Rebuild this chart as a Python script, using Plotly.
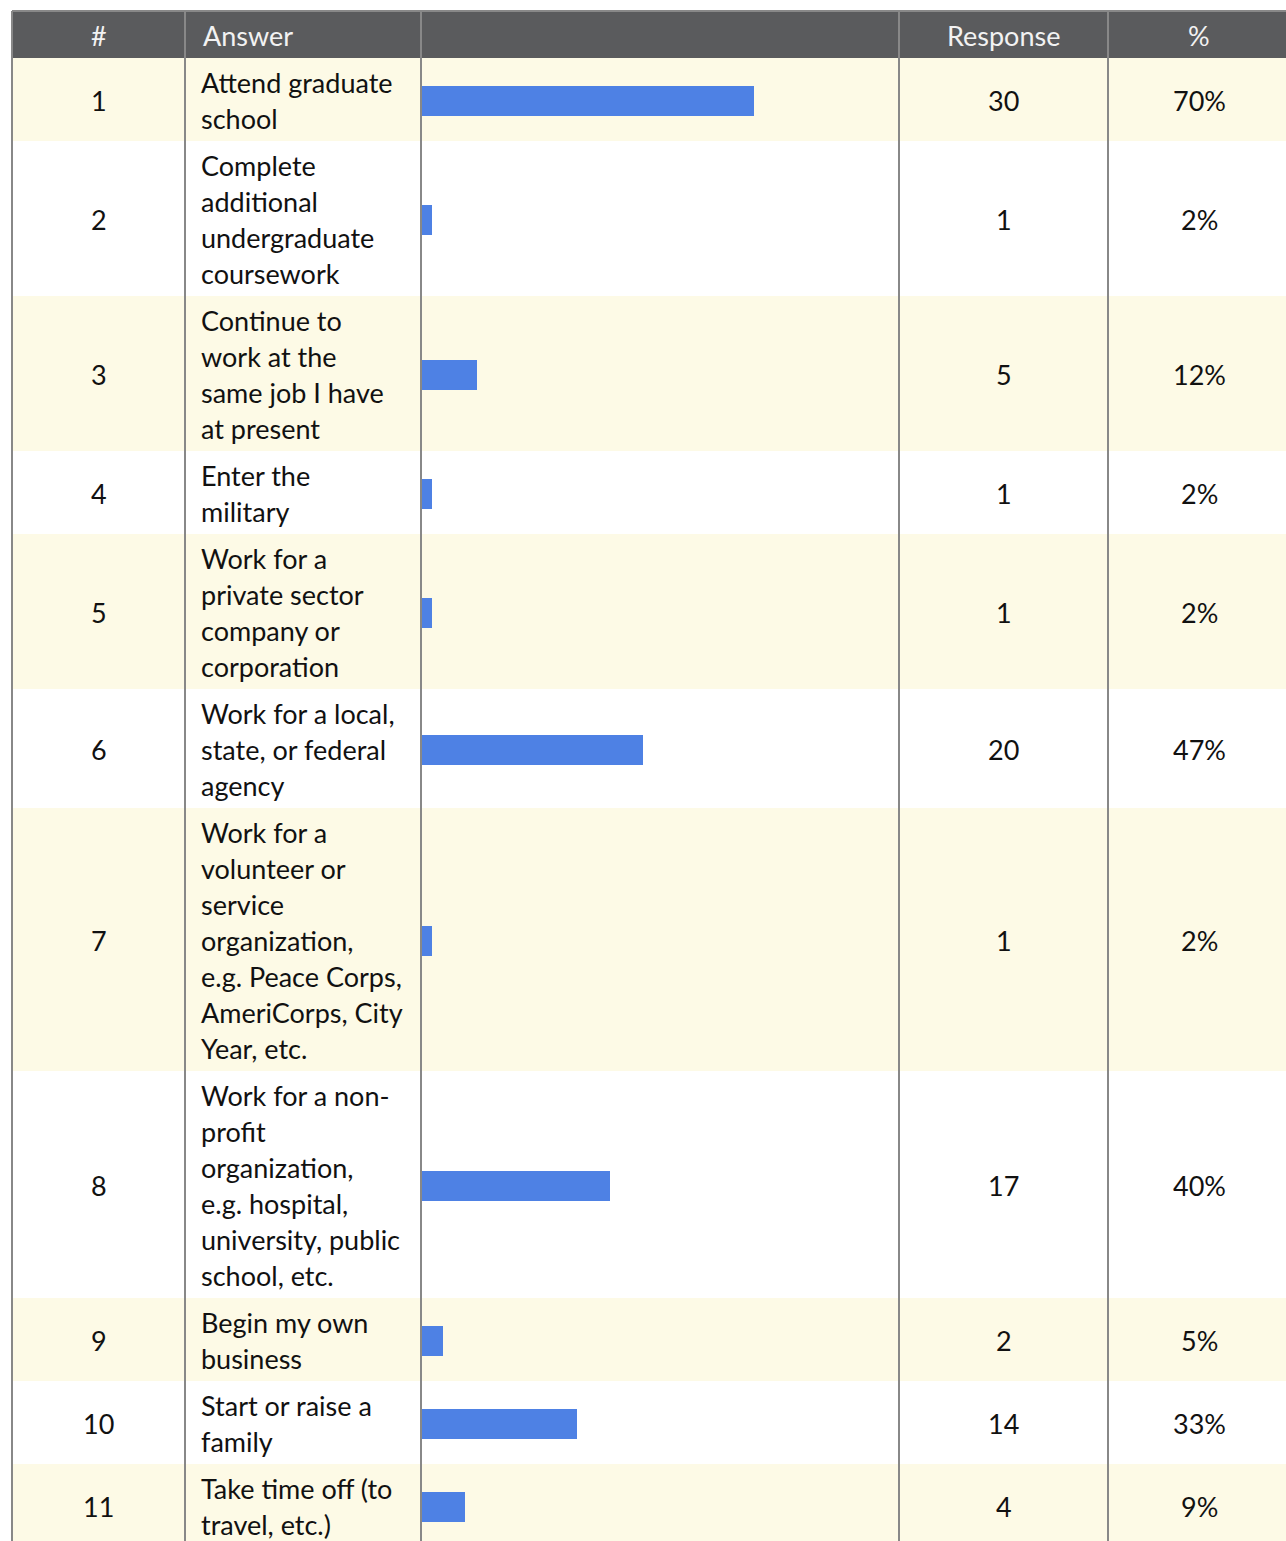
import plotly.graph_objects as go

# ---------------- data ----------------
numbers = ["1", "2", "3", "4", "5", "6", "7", "8", "9", "10", "11"]
answers = [
    ["Attend graduate", "school"],
    ["Complete", "additional", "undergraduate", "coursework"],
    ["Continue to", "work at the", "same job I have", "at present"],
    ["Enter the", "military"],
    ["Work for a", "private sector", "company or", "corporation"],
    ["Work for a local,", "state, or federal", "agency"],
    ["Work for a", "volunteer or", "service", "organization,", "e.g. Peace Corps,", "AmeriCorps, City", "Year, etc."],
    ["Work for a non-", "profit", "organization,", "e.g. hospital,", "university, public", "school, etc."],
    ["Begin my own", "business"],
    ["Start or raise a", "family"],
    ["Take time off (to", "travel, etc.)"],
]
responses = [30, 1, 5, 1, 1, 20, 1, 17, 2, 14, 4]
percent_labels = ["70%", "2%", "12%", "2%", "2%", "47%", "2%", "40%", "5%", "33%", "9%"]
total_respondents = 43
headers = ["#", "Answer", "", "Response", "%"]

share = [r / total_respondents * 100 for r in responses]

# ---------------- layout constants ----------------
W, H = 1286, 1541
FONT = "Lato, 'Open Sans', sans-serif"
FS = 27
LINE_H = 36
PAD = 11
HEADER_TOP, HEADER_BOT = 11, 58
col_x = [12, 185, 421, 899, 1108, 1292]
HEADER_BG = "#5A5B5D"
CREAM = "#FDFAE6"
GRID = "#888888"
BAR = "#4E81E4"

row_top = []
row_bot = []
y = HEADER_BOT
for lines in answers:
    h = LINE_H * len(lines) + PAD
    row_top.append(y)
    row_bot.append(y + h)
    y += h
row_mid = [(a + b) / 2 + 1 for a, b in zip(row_top, row_bot)]

shapes = []
annotations = []

shapes.append(dict(type="rect", xref="x", yref="y", x0=col_x[0], x1=W + 10, y0=HEADER_TOP, y1=HEADER_BOT,
                   fillcolor=HEADER_BG, line=dict(width=0), layer="below"))
for i in range(len(answers)):
    if i % 2 == 0:
        shapes.append(dict(type="rect", xref="x", yref="y", x0=col_x[0], x1=W + 10, y0=row_top[i], y1=row_bot[i],
                           fillcolor=CREAM, line=dict(width=0), layer="below"))
shapes.append(dict(type="line", xref="x", yref="y", x0=col_x[0], x1=W + 10, y0=HEADER_TOP, y1=HEADER_TOP,
                   line=dict(color=GRID, width=2), layer="above"))
for cx in col_x[:5]:
    shapes.append(dict(type="line", xref="x", yref="y", x0=cx, x1=cx, y0=HEADER_TOP, y1=H + 10,
                       line=dict(color=GRID, width=2), layer="above"))

hdr_pos = [(98.5, "center"), (201, "left"), (660, "center"), (1003.5, "center"), (1199, "center")]
for (hx, anc), txt in zip(hdr_pos, headers):
    if txt:
        annotations.append(dict(xref="x", yref="y", x=hx, y=(HEADER_TOP + HEADER_BOT) / 2 + 1, text=txt,
                                showarrow=False, xanchor=anc, yanchor="middle",
                                font=dict(family=FONT, size=FS, color="#F2F2F2")))

for i in range(len(answers)):
    ym = row_mid[i]
    for xx, txt in ((98.5, numbers[i]), (1003.5, str(responses[i])), (1199, percent_labels[i])):
        annotations.append(dict(xref="x", yref="y", x=xx, y=ym, text=txt, showarrow=False,
                                xanchor="center", yanchor="middle",
                                font=dict(family=FONT, size=FS, color="#111111")))
    n = len(answers[i])
    for k, line in enumerate(answers[i]):
        ly = ym + (k - (n - 1) / 2) * LINE_H
        annotations.append(dict(xref="x", yref="y", x=199, y=ly, text=line, showarrow=False,
                                xanchor="left", yanchor="middle",
                                font=dict(family=FONT, size=FS, color="#111111")))

fig = go.Figure()
fig.add_trace(go.Scatter(x=[0, W], y=[0, H], mode="markers", marker=dict(opacity=0),
                         hoverinfo="skip", showlegend=False))
fig.add_trace(go.Bar(x=share, y=row_mid, orientation="h", width=30, base=0,
                     marker=dict(color=BAR, line=dict(width=0)),
                     xaxis="x2", yaxis="y", showlegend=False,
                     hovertext=[str(r) for r in responses], hoverinfo="text"))

fig.update_layout(
    width=W, height=H,
    margin=dict(l=0, r=0, t=0, b=0),
    paper_bgcolor="white", plot_bgcolor="rgba(0,0,0,0)",
    xaxis=dict(range=[0, W], visible=False, fixedrange=True, domain=[0, 1]),
    yaxis=dict(range=[H, 0], visible=False, fixedrange=True, domain=[0, 1]),
    xaxis2=dict(range=[0, 100], domain=[col_x[2] / W, col_x[3] / W], anchor="y",
                visible=False, fixedrange=True),
    shapes=shapes,
    annotations=annotations,
    bargap=0,
)

fig.write_html("out.html", config={"displayModeBar": False},
               post_script="document.body.style.margin='0';document.body.style.overflow='hidden';")
